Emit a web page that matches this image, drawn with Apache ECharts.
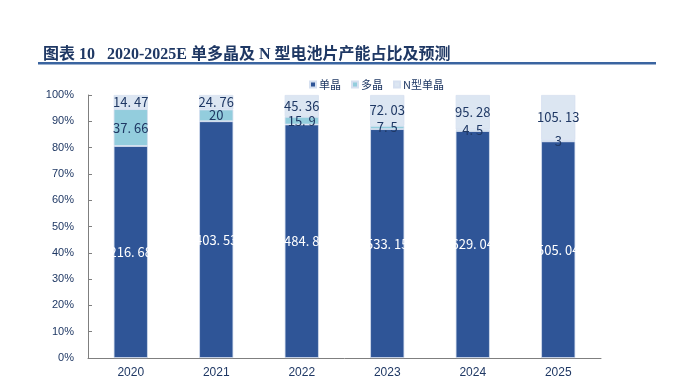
<!DOCTYPE html>
<html><head><meta charset="utf-8">
<script src="https://cdn.jsdelivr.net/npm/echarts@6/dist/echarts.min.js"></script>
<style>html,body{margin:0;padding:0;background:#fff}#c{width:679px;height:385px}</style>
</head><body><div id="c"></div>
<script>
const categories = ['2020','2021','2022','2023','2024','2025'];
const mono = [216.68, 403.53, 484.8, 533.15, 629.04, 505.04];
const poly = [37.66, 20, 15.9, 7.5, 4.5, 3];
const ntype = [14.47, 24.76, 45.36, 72.03, 95.28, 105.13];
const seriesNames = ['单晶', '多晶', 'N型单晶'];
const yTicks = [0,10,20,30,40,50,60,70,80,90,100];

const totals = categories.map((_, i) => mono[i] + poly[i] + ntype[i]);
const share = arr => arr.map((v, i) => v / totals[i] * 100);
const raw = [mono, poly, ntype];
const colors = ['#2F5597', '#93CDDD', '#DCE6F2'];
const labelColors = ['#ffffff', '#1F3864', '#1F3864'];

const chart = echarts.init(document.getElementById('c'));
chart.setOption({
  animation: false,
  title: {
    text: '图表 10   2020-2025E 单多晶及 N 型电池片产能占比及预测',
    left: 38, top: 42,
    textStyle: { fontFamily: "'Liberation Serif','Noto Sans CJK SC'", fontWeight: 'bold', fontSize: 16, color: '#1F3864' }
  },
  graphic: [{ type: 'rect', shape: { x: 38, y: 62, width: 618, height: 2.5 }, style: { fill: '#3A64A0' } }],
  legend: {
    top: 74, left: 304, itemWidth: 6, itemHeight: 6, itemGap: 10,
    icon: 'rect',
    textStyle: { fontFamily: "'Noto Sans CJK SC'", fontSize: 11, color: '#1F3864', padding: [0,0,0,-2] },
    data: seriesNames
  },
  grid: { left: 88, right: 78, top: 95, bottom: 27 },
  xAxis: {
    type: 'category', data: categories,
    axisLine: { lineStyle: { color: '#7F7F7F' } },
    axisTick: { inside: true, length: 4, lineStyle: { color: '#7F7F7F' } },
    axisLabel: { fontFamily: 'Liberation Sans', fontSize: 12, color: '#1F3864', margin: 9 }
  },
  yAxis: {
    type: 'value', min: 0, max: 100, interval: 10,
    axisLine: { show: true, lineStyle: { color: '#7F7F7F' } },
    axisTick: { show: true, inside: true, length: 4, lineStyle: { color: '#7F7F7F' } },
    splitLine: { show: false },
    axisLabel: { formatter: v => yTicks.includes(v) ? v + '%' : '', fontFamily: 'Liberation Sans', fontSize: 11, color: '#1F3864', margin: 14 }
  },
  series: seriesNames.map((name, k) => ({
    name, type: 'bar', stack: 'total', barWidth: '40%',
    data: share(raw[k]),
    itemStyle: { color: colors[k], borderColor: '#D6E0F0', borderWidth: 0.8 },
    label: {
      show: true, position: 'inside',
      formatter: p => String(raw[k][p.dataIndex]).split('.').join('. '),
      fontFamily: "'Noto Sans CJK SC'", fontSize: 13, color: labelColors[k]
    },
    labelLayout: { hideOverlap: false }
  }))
});
</script></body></html>
